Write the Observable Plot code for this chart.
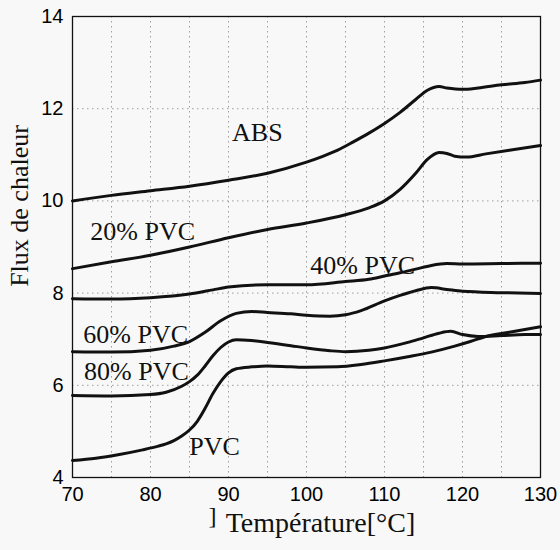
<!DOCTYPE html>
<html>
<head>
<meta charset="utf-8">
<script src="https://cdn.jsdelivr.net/npm/d3@7"></script>
<script src="https://cdn.jsdelivr.net/npm/@observablehq/plot@0.6"></script>
<style>
  html, body { margin: 0; padding: 0; background: #f8f8f8; }
  #chart svg { display: block; }
</style>
</head>
<body>
<div id="chart"></div>
<script>
// DSC heat-flow curves of ABS / PVC blends
const absT = [70, 75, 80, 85, 90, 95, 100, 102, 104, 106, 108, 110, 112, 114, 115.5, 117, 118, 120, 122, 125, 128, 130];
const absV = [10.0, 10.12, 10.22, 10.32, 10.45, 10.6, 10.84, 10.96, 11.1, 11.28, 11.47, 11.68, 11.92, 12.2, 12.4, 12.48, 12.45, 12.42, 12.45, 12.52, 12.57, 12.62];

const pvc20T = [70, 75, 80, 85, 90, 95, 100, 105, 108, 110, 112, 114, 115.5, 117, 118, 119, 120.5, 123, 126, 130];
const pvc20V = [8.53, 8.68, 8.82, 9.0, 9.2, 9.38, 9.52, 9.7, 9.85, 10.0, 10.25, 10.6, 10.9, 11.05, 11.03, 10.97, 10.95, 11.02, 11.1, 11.2];

const pvc40T = [70, 75, 80, 85, 88, 90, 95, 100, 105, 108, 110, 112, 114, 116, 118, 120, 125, 130];
const pvc40V = [7.88, 7.87, 7.9, 7.98, 8.07, 8.13, 8.18, 8.18, 8.25, 8.3, 8.37, 8.44, 8.52, 8.6, 8.64, 8.63, 8.64, 8.65];

const pvc60T = [70, 75, 80, 83, 85, 87, 89, 91, 93, 95, 98, 100, 103, 105, 107, 110, 112, 114, 116, 118, 120, 125, 130];
const pvc60V = [6.73, 6.72, 6.76, 6.85, 6.95, 7.15, 7.4, 7.56, 7.6, 7.58, 7.55, 7.52, 7.5, 7.53, 7.62, 7.83, 7.95, 8.05, 8.12, 8.08, 8.04, 8.01, 7.99];

const pvc80T = [70, 75, 80, 82, 84, 85, 86, 87, 88, 89, 90, 91, 93, 95, 98, 100, 103, 105, 108, 110, 113, 115, 117, 118.5, 120, 122, 125, 128, 130];
const pvc80V = [5.78, 5.77, 5.8, 5.85, 5.98, 6.08, 6.22, 6.42, 6.64, 6.82, 6.94, 6.99, 6.97, 6.93, 6.86, 6.81, 6.75, 6.73, 6.76, 6.81, 6.93, 7.03, 7.13, 7.17, 7.1, 7.06, 7.08, 7.1, 7.1];

const pvcT = [70, 73, 76, 79, 81, 82, 83, 84, 85, 86, 87, 88, 89, 90, 91, 93, 95, 98, 100, 104, 107, 110, 113, 116, 119, 121, 123, 126, 128, 130];
const pvcV = [4.37, 4.42, 4.5, 4.6, 4.68, 4.73, 4.8, 4.9, 5.03, 5.22, 5.5, 5.82, 6.08, 6.27, 6.36, 6.4, 6.42, 6.4, 6.39, 6.4, 6.45, 6.53, 6.62, 6.72, 6.85, 6.95, 7.06, 7.15, 7.21, 7.27];

// curve labels and where they sit (temperature, heat flow)
const labelNames = ["ABS", "20% PVC", "40% PVC", "60% PVC", "80% PVC", "PVC"];
const labelT = [93.7, 79.0, 107.2, 78.1, 78.2, 88.2];
const labelV = [11.49, 9.34, 8.6, 7.1, 6.3, 4.67];

// axes
const xTicks = [70, 80, 90, 100, 110, 120, 130];
const yTicks = [4, 6, 8, 10, 12, 14];
const xGrid = [75, 80, 85, 90, 95, 100, 105, 110, 115, 120, 125];
const yGrid = [6, 8, 10, 12];

const series = [
  ["ABS", absT, absV],
  ["20% PVC", pvc20T, pvc20V],
  ["40% PVC", pvc40T, pvc40V],
  ["60% PVC", pvc60T, pvc60V],
  ["80% PVC", pvc80T, pvc80V],
  ["PVC", pvcT, pvcV]
];
const rows = series.flatMap(([name, ts, vs]) => ts.map((t, i) => ({name, t, v: vs[i]})));
const labels = labelNames.map((name, i) => ({name, t: labelT[i], v: labelV[i]}));

const serif = "'Liberation Serif', 'Times New Roman', serif";

const chart = Plot.plot({
  width: 560,
  height: 550,
  marginLeft: 72,
  marginRight: 20,
  marginTop: 16,
  marginBottom: 73,
  style: {background: "transparent", fontFamily: "'Liberation Sans', Arial, sans-serif", fontSize: "20px", color: "black"},
  x: {domain: [70, 130]},
  y: {domain: [4, 14]},
  marks: [
    Plot.gridX(xGrid, {stroke: "#777", strokeOpacity: 0.7, strokeDasharray: "1.5,3.5"}),
    Plot.gridY(yGrid, {stroke: "#777", strokeOpacity: 0.7, strokeDasharray: "1.5,3.5"}),
    Plot.axisX(xTicks, {tickSize: 0, tickPadding: 9, label: null, fontSize: 20}),
    Plot.axisY(yTicks, {tickSize: 0, tickPadding: 9, label: null, fontSize: 20}),
    Plot.line(rows, {x: "t", y: "v", z: "name", stroke: "#111", strokeWidth: 3, curve: "monotone-x"}),
    Plot.text(labels, {x: "t", y: "v", text: "name", fontFamily: serif, fontSize: 26, fill: "#111", lineAnchor: "middle"}),
    Plot.text(["Température[°C]"], {frameAnchor: "bottom", dx: 14, dy: 54, fontFamily: serif, fontSize: 28, fill: "#111"}),
    Plot.text(["]"], {frameAnchor: "bottom-left", dx: 136, dy: 46, fontFamily: serif, fontSize: 24, fill: "#111"}),
    Plot.text(["Flux de chaleur"], {frameAnchor: "left", textAnchor: "middle", rotate: -90, dx: -53, dy: -41, fontFamily: serif, fontSize: 26, fill: "#111"}),
    Plot.frame({stroke: "#111", strokeWidth: 1.3})
  ]
});
document.getElementById("chart").appendChild(chart);
</script>
</body>
</html>
